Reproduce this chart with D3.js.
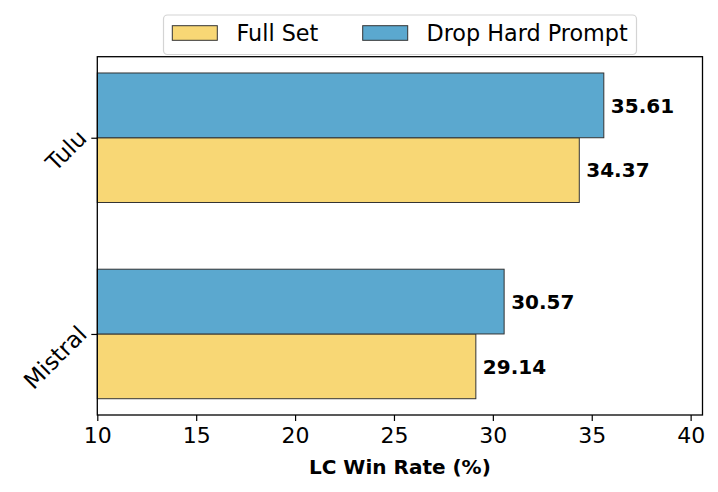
<!DOCTYPE html>
<html>
<head>
<meta charset="utf-8">
<script src="https://cdn.jsdelivr.net/npm/d3@7"></script>
<style>
  html, body { margin: 0; padding: 0; background: #fff; }
  svg { display: block; font-family: "DejaVu Sans", sans-serif; }
</style>
</head>
<body>
<svg id="chart" width="718" height="492"></svg>
<script>
const categories = ["Mistral", "Tulu"];
const seriesNames = ["Full Set", "Drop Hard Prompt"];
const fullSet = [29.14, 34.37];
const dropHard = [30.57, 35.61];
const xTicks = [10, 15, 20, 25, 30, 35, 40];
const colors = ["#F8D775", "#5BA8CF"];

(function () {
const svg = d3.select("#chart");
const pL = 97.3, pR = 702.5, pT = 56.7, pB = 415;
const barH = 0.33;
const x = d3.scaleLinear().domain([10, 40.6]).range([pL, pR]);
const ext = 1 + 2 * barH, m = ext * 0.05;
const y = d3.scaleLinear().domain([-barH - m, 1 + barH + m]).range([pB, pT]);

const data = [];
categories.forEach((c, i) => {
  data.push({cat: i, s: 0, v: fullSet[i]});
  data.push({cat: i, s: 1, v: dropHard[i]});
});

// bars
svg.append("g").selectAll("rect").data(data).join("rect")
  .attr("x", x(10))
  .attr("y", d => d.s === 1 ? y(d.cat + barH) : y(d.cat))
  .attr("width", d => x(d.v) - x(10))
  .attr("height", d => y(0) - y(barH))
  .attr("fill", d => colors[d.s])
  .attr("stroke", "#333")
  .attr("stroke-width", 1);

// value labels
svg.append("g").selectAll("text").data(data).join("text")
  .attr("x", d => x(d.v) + 7)
  .attr("y", d => y(d.cat + (d.s === 1 ? barH / 2 : -barH / 2)))
  .attr("dy", "0.36em")
  .attr("font-size", 20)
  .attr("font-weight", "bold")
  .attr("fill", "#000")
  .text(d => d.v.toFixed(2));

// frame
svg.append("rect").attr("x", pL).attr("y", pT)
  .attr("width", pR - pL).attr("height", pB - pT)
  .attr("fill", "none").attr("stroke", "#000").attr("stroke-width", 1.3);

// x axis
const xAxis = svg.append("g").attr("transform", `translate(0,${pB})`)
  .call(d3.axisBottom(x).tickValues(xTicks).tickSize(6).tickPadding(6).tickFormat(d3.format("d")));
xAxis.select(".domain").remove();
xAxis.selectAll("line").attr("stroke", "#000").attr("stroke-width", 1.2);
xAxis.selectAll("text").attr("font-size", 22).attr("fill", "#000")
  .attr("font-family", "DejaVu Sans");

// y ticks
const yAxis = svg.append("g").attr("transform", `translate(${pL},0)`)
  .call(d3.axisLeft(y).tickValues([0, 1]).tickSize(6).tickFormat(""));
yAxis.select(".domain").remove();
yAxis.selectAll("line").attr("stroke", "#000").attr("stroke-width", 1.2);

// category labels rotated
svg.append("g").selectAll("text").data(categories).join("text")
  .attr("transform", (d, i) => `translate(${pL - 15},${y(i) - 4}) rotate(-45)`)
  .attr("text-anchor", "end")
  .attr("dy", "0.36em")
  .attr("font-size", 23)
  .attr("fill", "#000")
  .text(d => d);

// x label
svg.append("text")
  .attr("x", (pL + pR) / 2).attr("y", 474)
  .attr("text-anchor", "middle")
  .attr("font-size", 20).attr("font-weight", "bold")
  .text("LC Win Rate (%)");

// legend
const lg = svg.append("g");
lg.append("rect").attr("x", 163.5).attr("y", 15).attr("width", 473).attr("height", 39.5)
  .attr("rx", 4).attr("fill", "#fff").attr("stroke", "#d4d4d4").attr("stroke-width", 1.2);
const legendItems = [
  {name: seriesNames[0], color: colors[0], sx: 172.3, tx: 236.5},
  {name: seriesNames[1], color: colors[1], sx: 362.7, tx: 426.5}
];
legendItems.forEach(it => {
  lg.append("rect").attr("x", it.sx).attr("y", 25.7).attr("width", 45).attr("height", 14.6)
    .attr("fill", it.color).attr("stroke", "#333").attr("stroke-width", 1);
  lg.append("text").attr("x", it.tx).attr("y", 33).attr("dy", "0.36em")
    .attr("font-size", 22.3).attr("fill", "#000").text(it.name);
});
})();
</script>
</body>
</html>
